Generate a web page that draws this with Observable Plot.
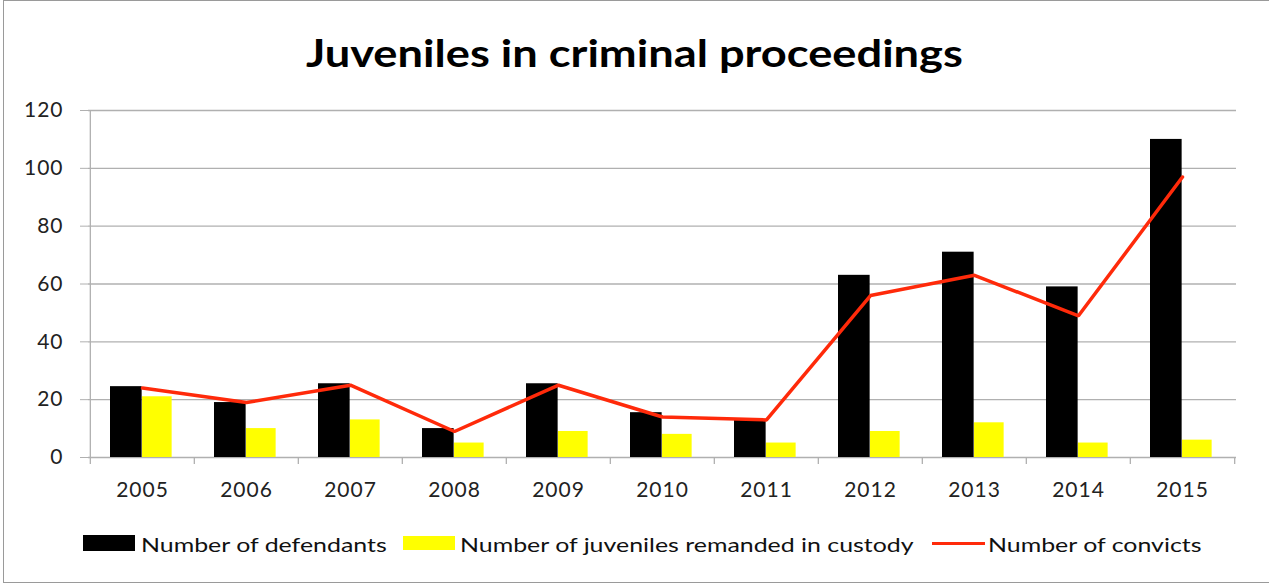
<!DOCTYPE html>
<html>
<head>
<meta charset="utf-8">
<script src="https://cdn.jsdelivr.net/npm/d3@7"></script>
<script src="https://cdn.jsdelivr.net/npm/@observablehq/plot@0.6"></script>
<style>
  html, body { margin: 0; padding: 0; background: #fff; }
  #page { position: relative; width: 1269px; height: 585px; overflow: hidden; font-family: Lato, "Open Sans", sans-serif; }
  #frame { position: absolute; left: 3px; top: 0px; width: 1300px; height: 583px; border: 1.5px solid #9a9a9a; box-sizing: border-box; }
  #title { position: absolute; left: 0; top: 26px; width: 1269px; text-align: center; font-weight: bold; font-size: 38px; line-height: 52px; color: #000; transform: scaleX(1.19); transform-origin: 635px 0; }
  #chart { position: absolute; left: 0; top: 90px; }
  .lg { position: absolute; top: 532px; font-size: 20px; line-height: 24px; color: #111; white-space: nowrap; transform: scaleX(1.245); transform-origin: 0 0; }
  .sw { position: absolute; }
</style>
</head>
<body>
<div id="page">
  <div id="frame"></div>
  <div id="title"></div>
  <div id="chart"></div>
  <div id="legend"></div>
</div>
<script>
const title = "Juveniles in criminal proceedings";
const years = ["2005","2006","2007","2008","2009","2010","2011","2012","2013","2014","2015"];
const defendants = [24.5, 19, 25.5, 10, 25.5, 15.5, 13, 63, 71, 59, 110];
const remanded = [21, 10, 13, 5, 9, 8, 5, 9, 12, 5, 6];
const convicts = [24, 19, 25, 9, 25, 14, 13, 56, 63, 49, 97];
const seriesNames = ["Number of defendants", "Number of juveniles remanded in custody", "Number of convicts"];
const seriesColors = ["#000000", "#ffff00", "#ff2a0a"];
const yTicks = [0, 20, 40, 60, 80, 100, 120];

document.getElementById("title").textContent = title;

const rows = years.map((y, i) => ({year: y, defendants: defendants[i], remanded: remanded[i], convicts: convicts[i]}));

const W = 1269, H = 415, mL = 88, mR = 33, mT = 20, mB = 48;
const bw = (W - mL - mR) / years.length;

const chart = Plot.plot({
  width: W,
  height: H,
  marginLeft: mL,
  marginRight: mR,
  marginTop: mT,
  marginBottom: mB,
  style: {fontFamily: "Lato, 'Open Sans', sans-serif", fontSize: "21px", color: "#222", background: "transparent", overflow: "visible", letterSpacing: "1px"},
  x: {type: "band", domain: years, paddingInner: 0, paddingOuter: 0},
  y: {domain: [0, 120]},
  marks: [
    Plot.gridY(yTicks, {stroke: "#b0b0b0", strokeOpacity: 1, strokeWidth: 1.3}),
    Plot.gridX([years[0]], {dx: -bw / 2, stroke: "#b0b0b0", strokeOpacity: 1, strokeWidth: 1.3}),
    Plot.axisY(yTicks, {tickSize: 8, tickPadding: 17, stroke: "#b0b0b0", fill: "#222", label: null, fontSize: 21}),
    Plot.axisX({tickSize: 0, tickPadding: 25, label: null, fill: "#222", fontSize: 21}),
    Plot.axisX({text: null, tickSize: 7, dx: -bw / 2, stroke: "#b0b0b0", strokeWidth: 1.3, label: null}),
    Plot.axisX([years[years.length - 1]], {text: null, tickSize: 7, dx: bw / 2, stroke: "#b0b0b0", strokeWidth: 1.3, label: null}),
    Plot.rectY(rows, {x: "year", y: "defendants", fill: seriesColors[0], insetLeft: 20, insetRight: bw - 52}),
    Plot.rectY(rows, {x: "year", y: "remanded", fill: seriesColors[1], insetLeft: 52, insetRight: bw - 82}),
    Plot.line(rows, {x: "year", y: "convicts", stroke: seriesColors[2], strokeWidth: 3.5, strokeLinejoin: "miter"})
  ]
});
document.getElementById("chart").appendChild(chart);

// Legend
const legend = document.getElementById("legend");
const lgItems = [
  {sw: {left: 83, top: 535, width: 52, height: 16}, textLeft: 141},
  {sw: {left: 403, top: 536, width: 52, height: 14}, textLeft: 460},
  {sw: {left: 932, top: 542, width: 53, height: 3}, textLeft: 988}
];
seriesNames.forEach((name, i) => {
  const s = document.createElement("div");
  s.className = "sw";
  Object.assign(s.style, {left: lgItems[i].sw.left + "px", top: lgItems[i].sw.top + "px", width: lgItems[i].sw.width + "px", height: lgItems[i].sw.height + "px", background: seriesColors[i]});
  legend.appendChild(s);
  const t = document.createElement("div");
  t.className = "lg";
  t.style.left = lgItems[i].textLeft + "px";
  t.textContent = name;
  legend.appendChild(t);
});
</script>
</body>
</html>
